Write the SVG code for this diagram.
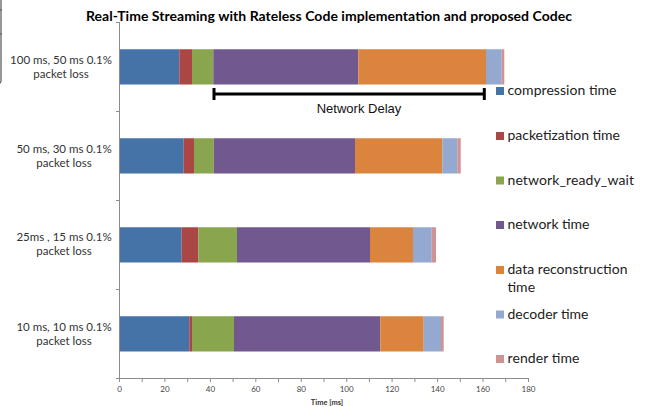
<svg xmlns="http://www.w3.org/2000/svg" width="656" height="407" viewBox="0 0 656 407">
<style>
text{font-family:Lato,"Open Sans","Liberation Sans",sans-serif;fill:#1a1a1a}
.title{font-size:14px;font-weight:bold;fill:#000}
.cat{font-size:11.5px;text-anchor:middle;fill:#333}
.tick{font-size:8px;text-anchor:middle;fill:#444}
.leg{font-size:14px;fill:#222}
.axis{stroke:#8c8c8c;stroke-width:1;fill:none}
.c1{fill:#4572A7}.c2{fill:#AA4643}.c3{fill:#89A54E}.c4{fill:#71588F}.c5{fill:#DB843D}.c6{fill:#93A9CF}.c7{fill:#D19392}
.hl{fill:#fff;opacity:0.25}
</style>
<rect width="656" height="407" fill="#fff"/>
<path d="M1,0 V80 Q1,83 0,83 M0,10 H2 M0,34 H2" stroke="#555" stroke-width="1.2" fill="none"/>
<text class="title" x="329" y="21" text-anchor="middle" textLength="486">Real-Time Streaming with Rateless Code implementation and proposed Codec</text>
<g id="axes">
<path class="axis" d="M119.5,22 V378.5 H528.5"/>
<path class="axis" d="M116,22.5 H119.5 M116,111.5 H119.5 M116,200.5 H119.5 M116,289.5 H119.5 M116,378.5 H119.5"/>
<path class="axis" d="M119.5,378 V382 M142.2,378 V382 M164.9,378 V382 M187.7,378 V382 M210.4,378 V382 M233.1,378 V382 M255.8,378 V382 M278.5,378 V382 M301.3,378 V382 M324,378 V382 M346.7,378 V382 M369.4,378 V382 M392.1,378 V382 M414.9,378 V382 M437.6,378 V382 M460.3,378 V382 M483,378 V382 M505.7,378 V382 M528.5,378 V382"/>
<text class="tick" x="119.5" y="392">0</text>
<text class="tick" x="164.9" y="392">20</text>
<text class="tick" x="210.4" y="392">40</text>
<text class="tick" x="255.8" y="392">60</text>
<text class="tick" x="301.3" y="392">80</text>
<text class="tick" x="346.7" y="392">100</text>
<text class="tick" x="392.1" y="392">120</text>
<text class="tick" x="437.6" y="392">140</text>
<text class="tick" x="483" y="392">160</text>
<text class="tick" x="528.5" y="392">180</text>
<text x="327" y="405" text-anchor="middle" style="font-size:7.5px;font-weight:bold;fill:#333">Time [ms]</text>
</g>
<g id="bar1">
<text class="cat" x="61" y="64">100 ms, 50 ms 0.1%</text>
<text class="cat" x="61" y="78">packet loss</text>
<rect class="c1" x="120" y="49" width="59.3" height="35.5"/>
<rect class="c2" x="179.3" y="49" width="12.7" height="35.5"/>
<rect class="c3" x="192" y="49" width="21.3" height="35.5"/>
<rect class="c4" x="213.3" y="49" width="145" height="35.5"/>
<rect class="c5" x="358.3" y="49" width="127.7" height="35.5"/>
<rect class="c6" x="486" y="49" width="15.7" height="35.5"/>
<rect class="c7" x="501.7" y="49" width="2.6" height="35.5"/>
<rect class="hl" x="120" y="49" width="384.3" height="1"/>
</g>
<g id="bar2">
<text class="cat" x="64" y="153">50 ms, 30 ms 0.1%</text>
<text class="cat" x="64" y="167">packet loss</text>
<rect class="c1" x="120" y="138" width="63.7" height="35.5"/>
<rect class="c2" x="183.7" y="138" width="10.3" height="35.5"/>
<rect class="c3" x="194" y="138" width="19.7" height="35.5"/>
<rect class="c4" x="213.7" y="138" width="141.3" height="35.5"/>
<rect class="c5" x="355" y="138" width="87.3" height="35.5"/>
<rect class="c6" x="442.3" y="138" width="15" height="35.5"/>
<rect class="c7" x="457.3" y="138" width="3.4" height="35.5"/>
<rect class="hl" x="120" y="138" width="340.7" height="1"/>
</g>
<g id="bar3">
<text class="cat" x="64" y="241">25ms , 15 ms 0.1%</text>
<text class="cat" x="64" y="255">packet loss</text>
<rect class="c1" x="120" y="227" width="61.7" height="35.5"/>
<rect class="c2" x="181.7" y="227" width="16.6" height="35.5"/>
<rect class="c3" x="198.3" y="227" width="38.7" height="35.5"/>
<rect class="c4" x="237" y="227" width="133" height="35.5"/>
<rect class="c5" x="370" y="227" width="43" height="35.5"/>
<rect class="c6" x="413" y="227" width="18.7" height="35.5"/>
<rect class="c7" x="431.7" y="227" width="4.3" height="35.5"/>
<rect class="hl" x="120" y="227" width="316" height="1"/>
</g>
<g id="bar4">
<text class="cat" x="64" y="331">10 ms, 10 ms 0.1%</text>
<text class="cat" x="64" y="345">packet loss</text>
<rect class="c1" x="120" y="316" width="69.3" height="35.5"/>
<rect class="c2" x="189.3" y="316" width="2.7" height="35.5"/>
<rect class="c3" x="192" y="316" width="42" height="35.5"/>
<rect class="c4" x="234" y="316" width="146.3" height="35.5"/>
<rect class="c5" x="380.3" y="316" width="43.4" height="35.5"/>
<rect class="c6" x="423.7" y="316" width="17.3" height="35.5"/>
<rect class="c7" x="441" y="316" width="2.7" height="35.5"/>
<rect class="hl" x="120" y="316" width="323.7" height="1"/>
</g>
<g id="connectors">
<path d="M214,94 H484.3 M214,88 V100 M484.3,88 V100" stroke="#000" stroke-width="3" fill="none"/>
</g>
<text x="359" y="113" text-anchor="middle" style="font-family:'Liberation Sans',Arial,sans-serif;font-size:13px;fill:#111">Network Delay</text>
<g id="legend">
<rect class="c1" x="496" y="87" width="8" height="8"/>
<text class="leg" x="507.5" y="95" textLength="109">compression time</text>
<rect class="c2" x="496" y="132" width="8" height="8"/>
<text class="leg" x="507.5" y="140" textLength="112.5">packetization time</text>
<rect class="c3" x="496" y="176.5" width="8" height="8"/>
<text class="leg" x="507.5" y="184.5" textLength="126.5">network_ready_wait</text>
<rect class="c4" x="496" y="221" width="8" height="8"/>
<text class="leg" x="507.5" y="229" textLength="82">network time</text>
<rect class="c5" x="496" y="266" width="8" height="8"/>
<text class="leg" x="507.5" y="274" textLength="120">data reconstruction</text>
<text class="leg" x="507.5" y="292">time</text>
<rect class="c6" x="496" y="310.5" width="8" height="8"/>
<text class="leg" x="507.5" y="318.5" textLength="81">decoder time</text>
<rect class="c7" x="496" y="355" width="8" height="8"/>
<text class="leg" x="507.5" y="363" textLength="72">render time</text>
</g>
</svg>
